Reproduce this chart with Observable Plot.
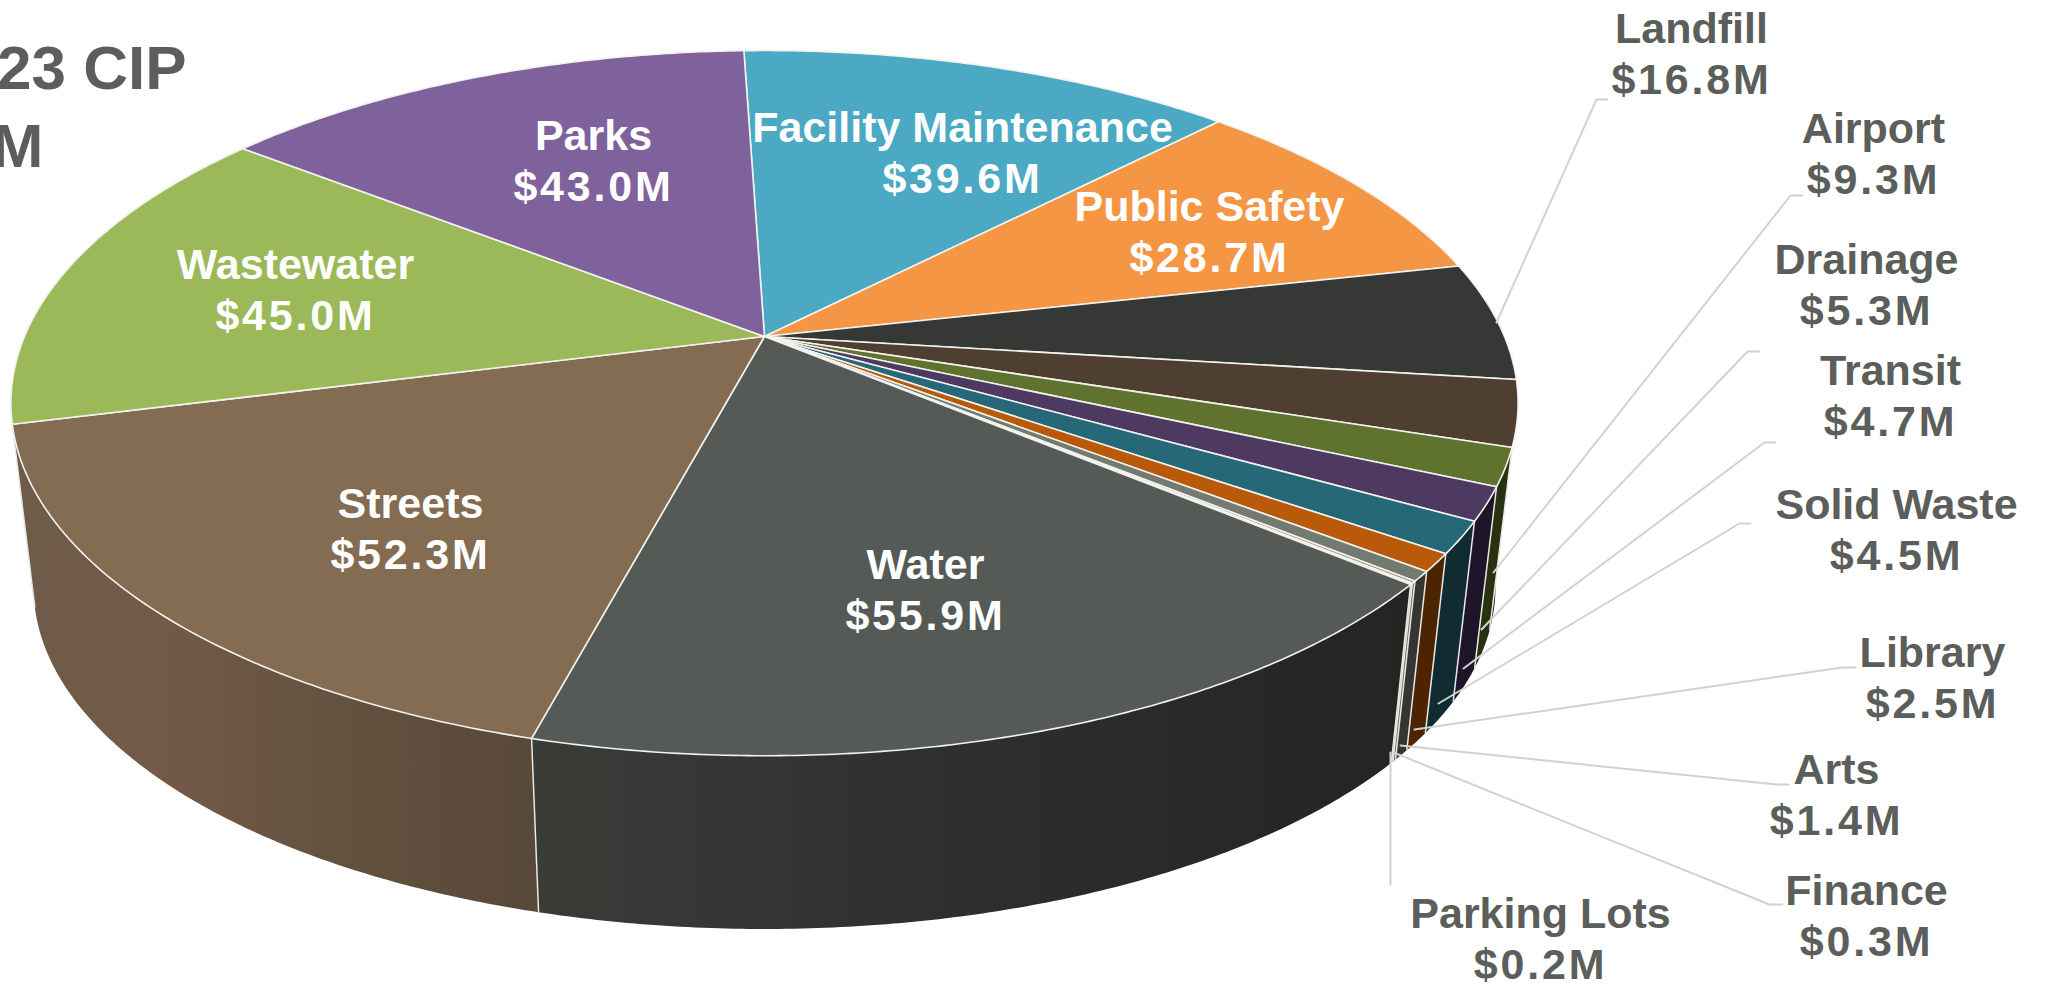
<!DOCTYPE html>
<html>
<head>
<meta charset="utf-8">
<script src="https://cdn.jsdelivr.net/npm/d3@7"></script>
<script src="https://cdn.jsdelivr.net/npm/@observablehq/plot@0.6"></script>
<style>
html,body{margin:0;padding:0;background:#fff;overflow:hidden}
svg{display:block}
.pie-labels tspan:last-child{letter-spacing:2.8px}
</style>
</head>
<body>
<div id="chart"></div>
<script>
// ---- data, clockwise from just left of the top of the pie
const categories = ["Facility Maintenance","Public Safety","Landfill","Airport","Drainage","Transit","Solid Waste","Library","Arts","Finance","Parking Lots","Water","Streets","Wastewater","Parks"];
const amounts = [39.6,28.7,16.8,9.3,5.3,4.7,4.5,2.5,1.4,0.3,0.2,55.9,52.3,45.0,43.0];
const topColors = ["#4ba9c4","#f59645","#363835","#4f3f30","#5f732f","#4e3a60","#266778","#b85a0a","#737a70","#a58a70","#d8d6c8","#565a56","#846c52","#9bb959","#7f619c"];
const sideColors = ["#2f6c7d","#a0612c","#232523","#2c2319","#28320f","#1e152a","#112b33","#4c2500","#343633","#6d5b4a","#b8b5a8","url(#waterSide)","url(#streetsSide)","#67793a","#523f66"];
const titleLines = ["23 CIP","M"];

// ---- label layout (plot coordinates), separate from the data
const labelCenters = {
  "Facility Maintenance":[962,151],"Public Safety":[1209,230],"Landfill":[1691,52],"Airport":[1873,152],
  "Drainage":[1866,283],"Transit":[1890,394],"Solid Waste":[1896,528],"Library":[1932,676],"Arts":[1836,793],
  "Finance":[1866,914],"Parking Lots":[1540,937],"Water":[925,588],"Streets":[410,527],"Wastewater":[295,288],"Parks":[593,159]
};
const insideLabels = ["Facility Maintenance","Public Safety","Water","Streets","Wastewater","Parks"];
const leaderPaths = {
  "Landfill":[[1496,322],[1596,99],[1607,99]],
  "Airport":[[1493,572],[1790,195],[1802,195]],
  "Drainage":[[1481,629],[1747,351],[1759,351]],
  "Transit":[[1463,668],[1764,442],[1775,442]],
  "Solid Waste":[[1438,703],[1739,523],[1750,523]],
  "Library":[[1414,729],[1842,667],[1855,667]],
  "Arts":[[1400,745],[1776,784],[1788,784]],
  "Finance":[[1393,752],[1769,904],[1782,904]],
  "Parking Lots":[[1390,752],[1390,884]]
};

// ---- perspective pie geometry
const CX = 764, CY = 336, FX = 740, FY = 340, K = 0.189;   // projective circle
const VX = 764, VY = 6530, DEPTH = 0.97;                    // extrusion toward vanishing point
const START = -1.9;
const total = d3.sum(amounts);
const rad = d => d * Math.PI / 180;
function project(deg, bottom) {
  const X = Math.sin(rad(deg)), Y = Math.cos(rad(deg)), w = 1 + K * Y;
  const x = CX + FX * X / w, y = CY - FY * Y / w;
  return bottom ? [VX + DEPTH * (x - VX), VY + DEPTH * (y - VY)] : [x, y];
}
function arc(a0, a1) {
  const n = Math.max(2, Math.ceil(Math.abs(a1 - a0) / 0.5) + 1);
  return d3.range(n).map(i => a0 + (a1 - a0) * i / (n - 1));
}
let acc = START;
const slices = categories.map((name, i) => {
  const a0 = acc, a1 = acc + amounts[i] / total * 360;
  acc = a1;
  return {name, value: amounts[i], a0, a1, mid: (a0 + a1) / 2, side: sideColors[i]};
});
const topPoints = slices.flatMap(s => {
  const rim = arc(s.a0, s.a1).map(a => project(a, false));
  return [[CX, CY], ...rim, [CX, CY]].map(([x, y]) => ({name: s.name, x, y}));
});
// sides: farthest first so nearer sides overlap them
const sideSlices = slices.slice().sort((a, b) => Math.cos(rad(b.mid)) - Math.cos(rad(a.mid)));
const sidePoints = sideSlices.flatMap(s => {
  const up = arc(s.a0, s.a1).map(a => project(a, false));
  const down = arc(s.a1, s.a0).map(a => project(a, true));
  return [...up, ...down].map(([x, y]) => ({name: s.name, side: s.side, x, y}));
});
// white verticals on the front boundaries
const edges = slices
  .filter(s => Math.cos(rad(s.a1)) < -0.13 && s.a1 < 256.5)
  .map(s => { const [x1, y1] = project(s.a1, false), [x2, y2] = project(s.a1, true); return {x1, y1, x2, y2}; });

const leaderPoints = Object.entries(leaderPaths).flatMap(([name, pts]) => pts.map(([x, y]) => ({name, x, y})));
const labels = slices.map(s => ({
  name: s.name,
  text: `${s.name}\n$${s.value.toFixed(1)}M`,
  x: labelCenters[s.name][0],
  y: labelCenters[s.name][1],
  inside: insideLabels.includes(s.name)
}));
const titleRows = [
  {text: titleLines[0], x: 186, y: 88},
  {text: titleLines[1], x: 43, y: 166}
];

const gradients = () => {
  const defs = d3.create("svg:defs");
  const add = (id, x1, x2, stops) => {
    const g = defs.append("linearGradient").attr("id", id).attr("gradientUnits", "userSpaceOnUse")
      .attr("x1", x1).attr("x2", x2).attr("y1", 0).attr("y2", 0);
    stops.forEach(([o, c]) => g.append("stop").attr("offset", o).attr("stop-color", c));
  };
  add("streetsSide", 15, 540, [[0,"#6e5b49"],[0.28,"#735a47"],[0.6,"#645240"],[1,"#584838"]]);
  add("waterSide", 535, 1400, [[0,"#3a3c38"],[0.5,"#2e2f2c"],[1,"#242422"]]);
  return defs.node();
};

const FONT = "'Liberation Sans',sans-serif";
const plot = Plot.plot({
  width: 2048, height: 988,
  marginTop: 0, marginRight: 0, marginBottom: 0, marginLeft: 0,
  x: {domain: [0, 2048], range: [0, 2048], axis: null},
  y: {domain: [0, 988], range: [0, 988], axis: null},
  color: {type: "categorical", domain: categories, range: topColors},
  className: "pie-labels",
  style: {background: "#fff"},
  marks: [
    gradients,
    Plot.line(sidePoints, {x: "x", y: "y", z: "name", fill: {value: d => d.side, scale: null}, stroke: "none", curve: "linear"}),
    Plot.link(edges, {x1: "x1", y1: "y1", x2: "x2", y2: "y2", stroke: "#e8e8e4", strokeWidth: 1.5}),
    Plot.line(topPoints, {x: "x", y: "y", z: "name", fill: "name", stroke: "#f2f2ee", strokeWidth: 1.6, curve: "linear"}),
    Plot.line(leaderPoints, {x: "x", y: "y", z: "name", stroke: "#d2d2d2", strokeWidth: 2, curve: "linear"}),
    Plot.text(labels.filter(d => d.inside), {x: "x", y: "y", text: "text", fill: "#ffffff", fontFamily: FONT, fontWeight: 700, fontSize: 43, lineHeight: 1.17, lineAnchor: "middle", textAnchor: "middle"}),
    Plot.text(labels.filter(d => !d.inside), {x: "x", y: "y", text: "text", fill: "#5b5e5a", fontFamily: FONT, fontWeight: 700, fontSize: 43, lineHeight: 1.17, lineAnchor: "middle", textAnchor: "middle"}),
    Plot.text(titleRows, {x: "x", y: "y", text: "text", fill: "#5b5e5a", fontFamily: FONT, fontWeight: 700, fontSize: 62, lineAnchor: "bottom", textAnchor: "end"})
  ]
});
document.getElementById("chart").append(plot);
</script>
</body>
</html>
